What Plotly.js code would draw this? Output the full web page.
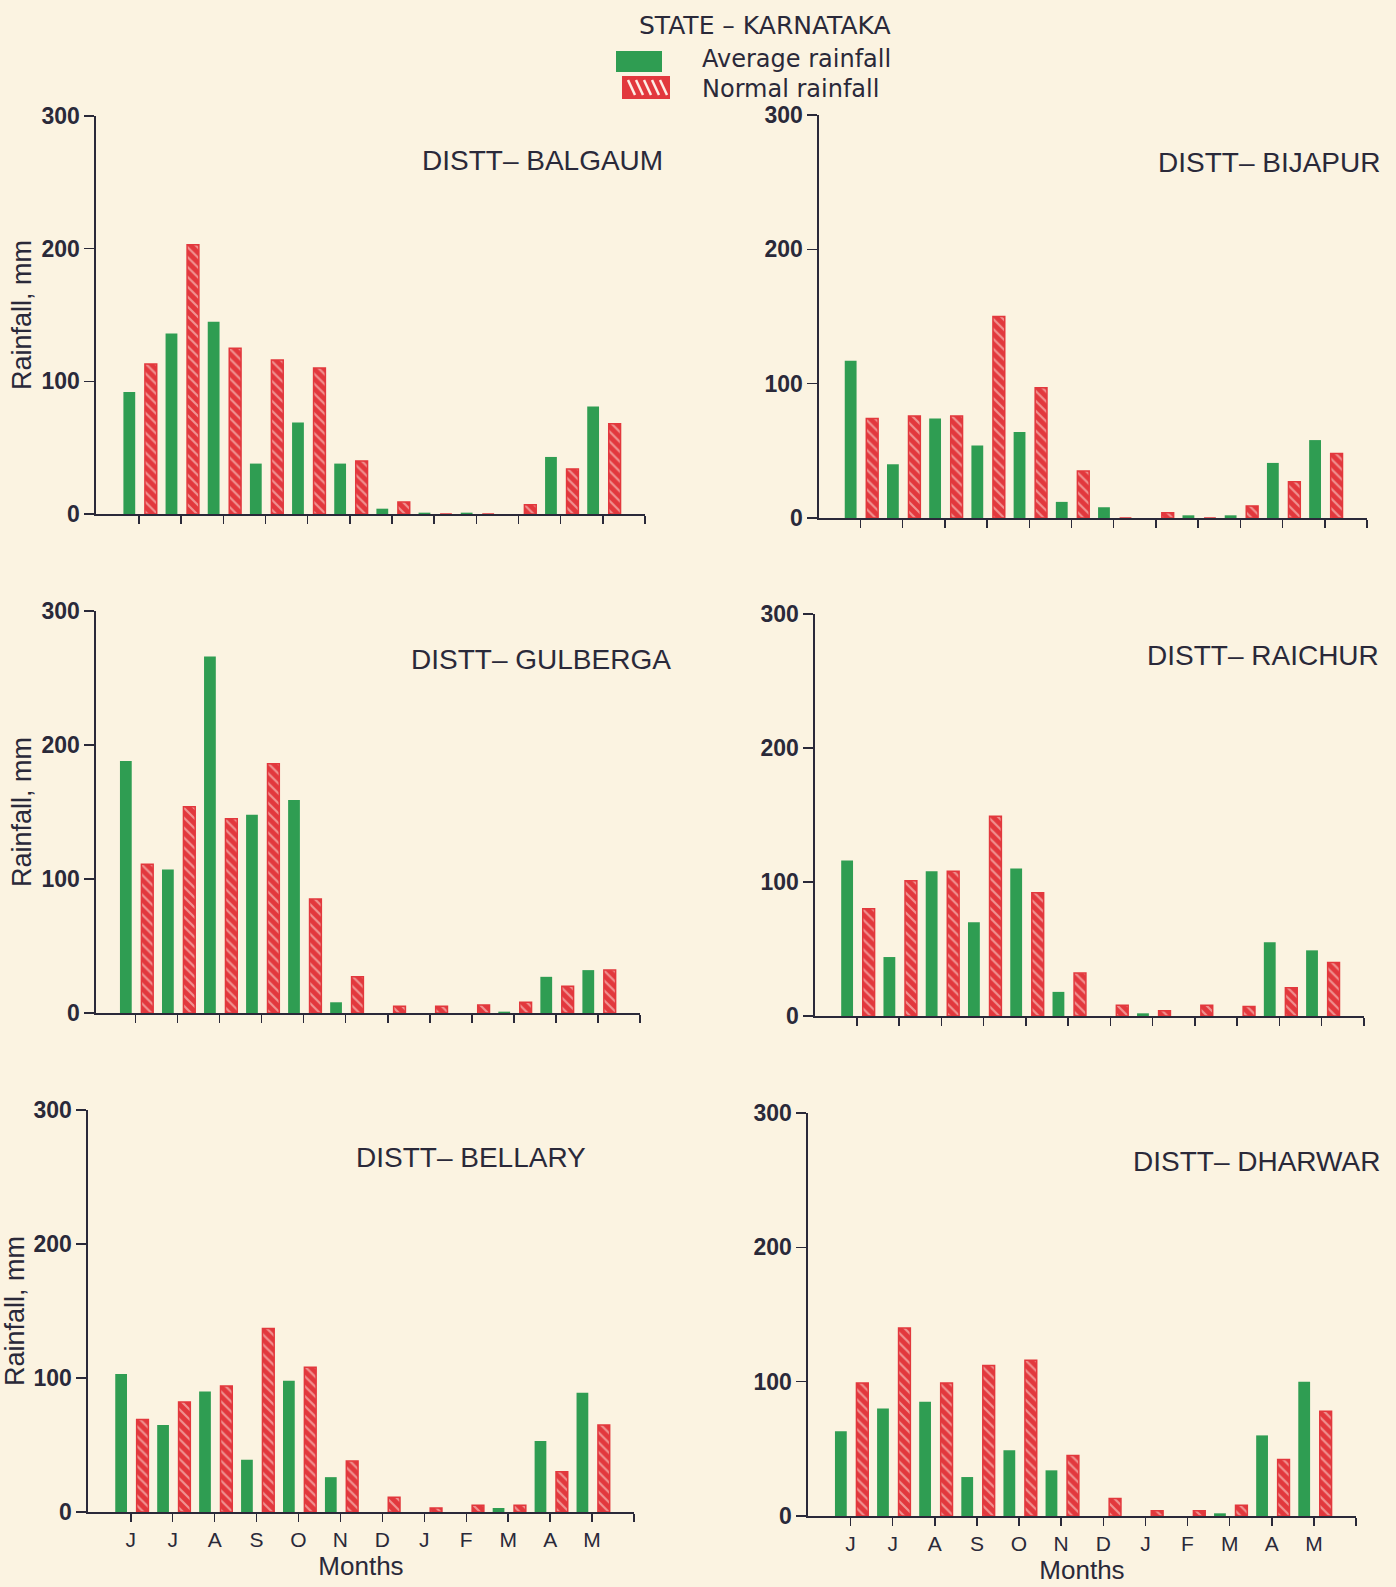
<!DOCTYPE html>
<html>
<head>
<meta charset="utf-8">
<script src="https://cdn.plot.ly/plotly-3.0.1.min.js"></script>
<style>
  html, body { margin: 0; padding: 0; background: #fbf3e1; }
  #chart { width: 1396px; height: 1587px; }
</style>
</head>
<body>
<div id="chart"></div>
<script>
// ---- Data (mm) ----
const months = ['J', 'J', 'A', 'S', 'O', 'N', 'D', 'J', 'F', 'M', 'A', 'M'];
const monthPos = [0, 1, 2, 3, 4, 5, 6, 7, 8, 9, 10, 11];

const districts = ['DISTT\u2013 BALGAUM', 'DISTT\u2013 BIJAPUR', 'DISTT\u2013 GULBERGA',
                   'DISTT\u2013 RAICHUR', 'DISTT\u2013 BELLARY', 'DISTT\u2013 DHARWAR'];

const balgaumAvg  = [92, 136, 145, 38, 69, 38, 4, 1, 1, 0, 43, 81];
const balgaumNorm = [113, 203, 125, 116, 110, 40, 9, 0, 0, 7, 34, 68];

const bijapurAvg  = [117, 40, 74, 54, 64, 12, 8, 0, 2, 2, 41, 58];
const bijapurNorm = [74, 76, 76, 150, 97, 35, 0, 4, 0, 9, 27, 48];

const gulbergaAvg  = [188, 107, 266, 148, 159, 8, 0, 0, 0, 1, 27, 32];
const gulbergaNorm = [111, 154, 145, 186, 85, 27, 5, 5, 6, 8, 20, 32];

const raichurAvg  = [116, 44, 108, 70, 110, 18, 0, 2, 0, 0, 55, 49];
const raichurNorm = [80, 101, 108, 149, 92, 32, 8, 4, 8, 7, 21, 40];

const bellaryAvg  = [103, 65, 90, 39, 98, 26, 0, 0, 0, 3, 53, 89];
const bellaryNorm = [69, 82, 94, 137, 108, 38, 11, 3, 5, 5, 30, 65];

const dharwarAvg  = [63, 80, 85, 29, 49, 34, 0, 0, 0, 2, 60, 100];
const dharwarNorm = [99, 140, 99, 112, 116, 45, 13, 4, 4, 8, 42, 78];

const yTicks = [0, 100, 200, 300];

// ---- Styling ----
const W = 1396, H = 1587;
const GREEN = '#2f9d52';
const RED = '#e2383d';
const BG = '#fbf3e1';
const INK = '#2a2939';
const FONT = 'Liberation Sans, Arial, sans-serif';
const WIDEFONT = 'DejaVu Sans, Liberation Sans, sans-serif';

const avgSeries  = [balgaumAvg, bijapurAvg, gulbergaAvg, raichurAvg, bellaryAvg, dharwarAvg];
const normSeries = [balgaumNorm, bijapurNorm, gulbergaNorm, raichurNorm, bellaryNorm, dharwarNorm];

// panel pixel geometry: [yAxisX, xAxisEnd, zeroY, topY, xRangeMin]
const panels = [
  [96, 645, 514, 116, -1.02],
  [819, 1367, 518, 115, -0.98],
  [96, 640, 1013, 611, -0.94],
  [815, 1364, 1016, 614, -0.99],
  [88, 634, 1512, 1110, -1.02],
  [808, 1356, 1516, 1113, -1.01]
];
const titlePos = [[665, 160], [1382, 163], [673, 659], [1381, 655], [588, 1157], [1382, 1161]];

const px = x => x / W;
const py = y => 1 - y / H;

const traces = [];
const layout = {
  width: W, height: H,
  margin: {l: 0, r: 0, t: 0, b: 0},
  paper_bgcolor: BG,
  plot_bgcolor: 'rgba(0,0,0,0)',
  showlegend: false,
  barmode: 'overlay',
  font: {family: FONT, color: INK},
  annotations: [],
  shapes: []
};

for (let i = 0; i < 6; i++) {
  const s = i === 0 ? '' : String(i + 1);
  const p = panels[i];
  traces.push({
    type: 'bar', x: monthPos, y: avgSeries[i],
    xaxis: 'x' + s, yaxis: 'y' + s,
    name: 'Average rainfall',
    offset: -0.37, width: 0.28,
    marker: {color: GREEN, line: {width: 0}},
    hoverinfo: 'x+y'
  });
  traces.push({
    type: 'bar', x: monthPos, y: normSeries[i],
    xaxis: 'x' + s, yaxis: 'y' + s,
    name: 'Normal rainfall',
    offset: 0.14, width: 0.28,
    marker: {
      color: RED,
      line: {color: RED, width: 1.5},
      pattern: {shape: '\\', fillmode: 'overlay', fgcolor: '#fdeee6', size: 7, solidity: 0.3}
    },
    hoverinfo: 'x+y'
  });
  const bottom = i >= 4;
  const left = i % 2 === 0;
  layout['xaxis' + s] = {
    domain: [px(p[0]), px(p[1])],
    anchor: 'y' + s,
    range: [p[4], 12],
    tickvals: monthPos.concat([12]),
    ticktext: months.concat(['']),
    showticklabels: bottom,
    tickfont: {size: 21, family: FONT, color: INK},
    ticks: 'outside', ticklen: 8, tickwidth: 1.5, tickcolor: INK,
    showline: true, linecolor: INK, linewidth: 1.6,
    showgrid: false, zeroline: false, fixedrange: true,
    title: bottom ? {text: 'Months', font: {size: 26, family: FONT, color: INK}, standoff: 0} : {text: ''}
  };
  layout['yaxis' + s] = {
    domain: [py(p[2]), py(p[3])],
    anchor: 'x' + s,
    range: [0, 300],
    tickvals: yTicks,
    ticktext: yTicks.map(String),
    tickfont: {size: 23, family: FONT, color: INK, weight: 'bold'},
    ticks: 'outside', ticklen: 10, tickwidth: 1.5, tickcolor: INK,
    showline: true, linecolor: INK, linewidth: 1.6,
    showgrid: false, zeroline: false, fixedrange: true,
    title: left ? {text: 'Rainfall, mm', font: {size: 27, family: FONT, color: INK}, standoff: 2} : {text: ''}
  };
  layout.annotations.push({
    xref: 'paper', yref: 'paper',
    x: px(titlePos[i][0]), y: py(titlePos[i][1]),
    xanchor: 'right', yanchor: 'middle',
    text: districts[i], showarrow: false,
    font: {size: 28, family: FONT, color: INK}
  });
}

// ---- Legend (drawn) ----
layout.annotations.push({
  xref: 'paper', yref: 'paper', x: px(765), y: py(26),
  xanchor: 'center', yanchor: 'middle', showarrow: false,
  text: 'STATE \u2013 KARNATAKA', font: {size: 25, family: WIDEFONT, color: INK}
});
layout.annotations.push({
  xref: 'paper', yref: 'paper', x: px(700), y: py(59),
  xanchor: 'left', yanchor: 'middle', showarrow: false,
  text: 'Average rainfall', font: {size: 24, family: WIDEFONT, color: INK}
});
layout.annotations.push({
  xref: 'paper', yref: 'paper', x: px(700), y: py(89),
  xanchor: 'left', yanchor: 'middle', showarrow: false,
  text: 'Normal rainfall', font: {size: 24, family: WIDEFONT, color: INK}
});
layout.shapes.push({
  type: 'rect', xref: 'paper', yref: 'paper',
  x0: px(616), x1: px(662), y0: py(72), y1: py(51),
  fillcolor: GREEN, line: {width: 0}
});
layout.shapes.push({
  type: 'rect', xref: 'paper', yref: 'paper',
  x0: px(622), x1: px(670), y0: py(99), y1: py(76),
  fillcolor: RED, line: {width: 0}
});
for (let k = 0; k < 5; k++) {
  const x0 = 628 + k * 8;
  layout.shapes.push({
    type: 'line', xref: 'paper', yref: 'paper',
    x0: px(x0), y0: py(80), x1: px(x0 + 7), y1: py(95),
    line: {color: '#fdeee6', width: 2.5}
  });
}

Plotly.newPlot('chart', traces, layout, {staticPlot: true, displayModeBar: false});
</script>
</body>
</html>
